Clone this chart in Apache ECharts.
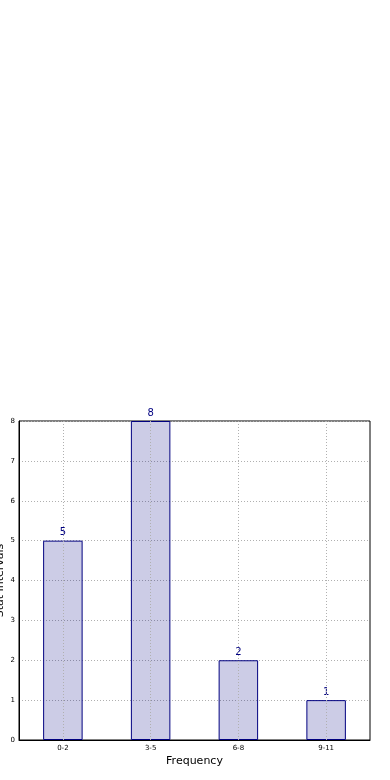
<!DOCTYPE html>
<html><head><meta charset="utf-8">
<script src="https://cdn.jsdelivr.net/npm/echarts@6/dist/echarts.min.js"></script>
<style>html,body{margin:0;padding:0;background:#fff}#c{width:390px;height:780px}</style>
</head><body><div id="c"></div>
<script>
const categories = ['0-2', '3-5', '6-8', '9-11'];
const values = [5, 8, 2, 1];
const yTicks = [0, 1, 2, 3, 4, 5, 6, 7, 8];

const chart = echarts.init(document.getElementById('c'), null, {renderer: 'canvas'});
const grid = '#b0b0b0';
chart.setOption({
  animation: false,
  grid: {left: 19, right: 20, top: 421, bottom: 40, containLabel: false, outerBoundsMode: 'none', show: true, borderColor: '#000', borderWidth: 1, backgroundColor: 'transparent'},
  xAxis: {
    type: 'category', data: categories, boundaryGap: true,
    name: 'Frequency', nameLocation: 'middle', nameGap: 16, nameMoveOverlap: false,
    nameTextStyle: {fontSize: 11, color: '#000', fontFamily: 'DejaVu Sans'},
    axisLine: {lineStyle: {color: '#000'}},
    axisTick: {show: false},
    axisLabel: {fontSize: 7, color: '#000', margin: 5, fontFamily: 'DejaVu Sans'},
    splitLine: {show: false}
  },
  yAxis: {
    type: 'value', min: yTicks[0], max: yTicks[yTicks.length - 1], interval: 1,
    name: 'Stat Intervals', nameLocation: 'middle', nameGap: 13, nameRotate: 90, nameMoveOverlap: false,
    nameTextStyle: {fontSize: 11, color: '#000', fontFamily: 'DejaVu Sans'},
    axisLine: {show: true, lineStyle: {color: '#000'}},
    axisTick: {show: false},
    axisLabel: {fontSize: 7, color: '#000', margin: 4, fontFamily: 'DejaVu Sans'},
    splitLine: {show: true, lineStyle: {color: grid, type: [1, 2], width: 1}}
  },
  series: [{
    type: 'bar', data: values, barWidth: '45%',
    itemStyle: {color: 'rgba(0,0,128,0.2)', borderColor: '#000080', borderWidth: 1},
    label: {show: true, position: 'top', distance: 3, color: '#000080', fontSize: 10, fontFamily: 'DejaVu Sans'},
    markLine: {
      silent: true, symbol: 'none', label: {show: false},
      lineStyle: {color: grid, type: [1, 2], width: 1},
      data: categories.map(c => ({xAxis: c}))
    }
  }]
});
</script></body></html>
